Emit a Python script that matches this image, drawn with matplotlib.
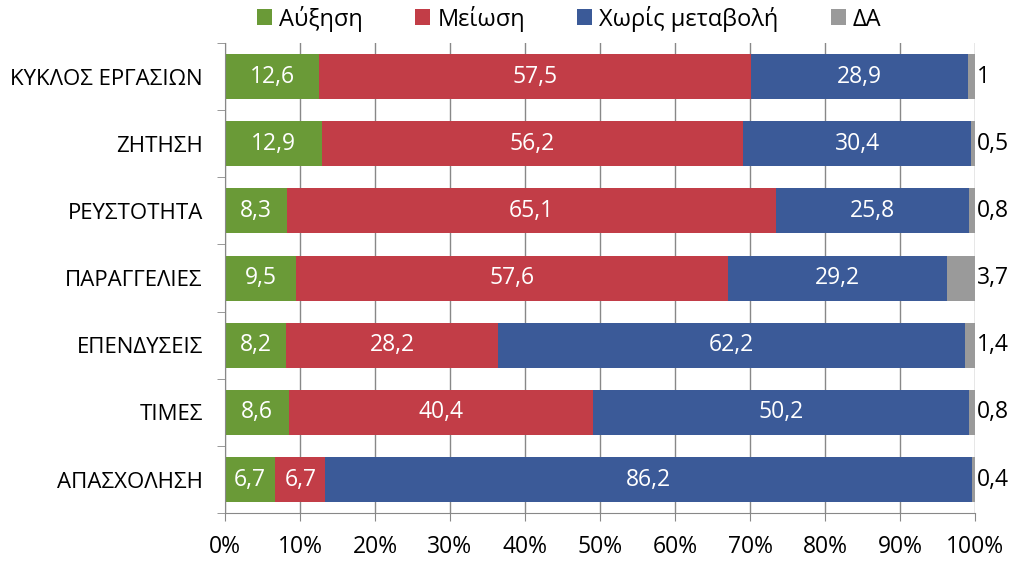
import matplotlib
matplotlib.use('Agg')
from matplotlib import pyplot as plt
import numpy as np

plt.rcParams['font.family'] = ['Open Sans', 'DejaVu Sans']

# Δεδομένα
categories = ['ΚΥΚΛΟΣ ΕΡΓΑΣΙΩΝ', 'ΖΗΤΗΣΗ', 'ΡΕΥΣΤΟΤΗΤΑ', 'ΠΑΡΑΓΓΕΛΙΕΣ',
              'ΕΠΕΝΔΥΣΕΙΣ', 'ΤΙΜΕΣ', 'ΑΠΑΣΧΟΛΗΣΗ']
increase = [12.6, 12.9, 8.3, 9.5, 8.2, 8.6, 6.7]
decrease = [57.5, 56.2, 65.1, 57.6, 28.2, 40.4, 6.7]
no_change = [28.9, 30.4, 25.8, 29.2, 62.2, 50.2, 86.2]
na = [1, 0.5, 0.8, 3.7, 1.4, 0.8, 0.4]

series = [('Αύξηση', increase, '#6a9a37'),
          ('Μείωση', decrease, '#c23d47'),
          ('Χωρίς μεταβολή', no_change, '#3b5a98'),
          ('ΔΑ', na, '#9a9a9a')]

def fmt(v):
    return f'{v:g}'.replace('.', ',')

fs = 16.5

fig = plt.figure(figsize=(10.24, 5.62), dpi=100)
ax = fig.add_axes([0.2197, 0.087, 0.7325, 0.8365])

y = np.arange(len(categories))
left = np.zeros(len(categories))
for name, vals, col in series:
    vals = np.array(vals, dtype=float)
    ax.barh(y, vals, left=left, height=0.67, color=col, label=name, zorder=2)
    for yi, l, v in zip(y, left, vals):
        if name == 'ΔΑ':
            ax.text(100.3, yi, fmt(v), ha='left', va='center',
                    fontsize=fs, color='black')
        else:
            ax.text(l + v / 2, yi, fmt(v), ha='center', va='center',
                    fontsize=fs, color='white', zorder=3)
    left += vals

ax.set_xlim(0, 100)
ax.set_ylim(len(categories) - 0.5, -0.5)
ax.set_yticks(y)
ax.set_yticklabels(categories, fontsize=16)
ax.set_yticks(np.arange(-0.5, len(categories), 1), minor=True)
ax.tick_params(axis='y', which='major', length=0, pad=16)
ax.tick_params(axis='y', which='minor', length=6, color='#888888')
ax.set_xticks(np.arange(0, 101, 10))
ax.set_xticklabels([f'{t}%' for t in range(0, 101, 10)], fontsize=fs)
ax.tick_params(axis='x', length=6, color='#888888', pad=10)
ax.xaxis.grid(True, color='#888888', linewidth=1, zorder=0)
ax.set_axisbelow(True)

for s in ['top', 'right']:
    ax.spines[s].set_visible(False)
for s in ['left', 'bottom']:
    ax.spines[s].set_color('#888888')

fig.legend(*ax.get_legend_handles_labels(), loc='center',
           bbox_to_anchor=(0.556, 0.967), ncol=4, frameon=False,
           fontsize=17, handlelength=0.65, handleheight=0.65,
           handletextpad=0.3, columnspacing=2.2, borderaxespad=0)

fig.savefig('out.png', dpi=100)
